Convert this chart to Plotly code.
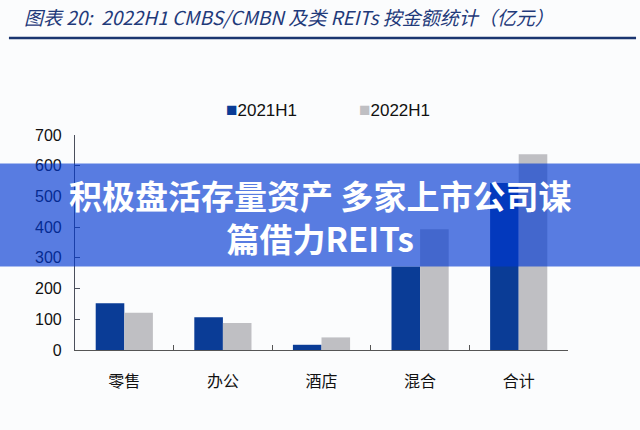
import plotly.graph_objects as go

# ── Data (亿元) ───────────────────────────────────────────────────────────────
categories = ["零售", "办公", "酒店", "混合", "合计"]
h1_2021 = [152, 107, 17, 272, 544]
h1_2022 = [121, 88, 41, 393, 637]
series_names = ["2021H1", "2022H1"]
y_ticks = [0, 100, 200, 300, 400, 500, 600, 700]

BLUE = "#0a3c96"
GREY = "#bfbfc3"
NAVY = "#1f3a7a"
BG = "#fbfcfd"

fig = go.Figure()
fig.add_trace(go.Bar(x=categories, y=h1_2021, name=series_names[0],
                     marker=dict(color=BLUE, line=dict(width=0)), showlegend=False))
fig.add_trace(go.Bar(x=categories, y=h1_2022, name=series_names[1],
                     marker=dict(color=GREY, line=dict(width=0)), showlegend=False))

# ── Legend drawn as text (tight square + label like the source) ──────────────
legend_x = [0.302, 0.571]
for name, color, lx in zip(series_names, [BLUE, GREY], legend_x):
    fig.add_annotation(
        xref="paper", yref="paper", x=lx, y=1.12, xanchor="left", yanchor="middle",
        text=f'<span style="color:{color};font-size:19px">■</span>{name}',
        showarrow=False, font=dict(family="Liberation Sans, Arial", size=17, color="#111"),
    )

# ── Title + rule ─────────────────────────────────────────────────────────────
fig.add_annotation(
    xref="paper", yref="paper", x=-0.107, y=1.553, xanchor="left", yanchor="middle",
    text="<i>图表 20:  2022H1 CMBS/CMBN 及类 REITs 按金额统计（亿元）</i>",
    showarrow=False, font=dict(family="Noto Sans CJK SC", size=19, color=NAVY),
)
fig.add_shape(type="line", xref="paper", yref="paper",
              x0=-0.134, x1=1.138, y0=1.451, y1=1.451,
              line=dict(color="#1a3570", width=2.5))

# ── Overlay banner ───────────────────────────────────────────────────────────
fig.add_shape(type="rect", xref="paper", yref="paper",
              x0=-0.16, x1=1.16, y0=0.388, y1=0.868,
              fillcolor="rgba(0,55,210,0.65)", line=dict(width=0), layer="above")
fig.add_annotation(
    xref="paper", yref="paper", x=0.497, y=0.62, xanchor="center", yanchor="middle",
    text="<b>积极盘活存量资产 多家上市公司谋<br>篇借力REITs</b>",
    showarrow=False, font=dict(family="Noto Sans CJK SC", size=33, color="white"),
)

fig.update_layout(
    width=640, height=430,
    margin=dict(l=75, r=72, t=134.5, b=79.5),
    paper_bgcolor=BG, plot_bgcolor=BG,
    barmode="group", bargap=0.42, bargroupgap=0,
    showlegend=False,
    xaxis=dict(
        showline=True, linecolor="#555", linewidth=1.2,
        ticks="inside", ticklen=5, tickcolor="#555", tickson="boundaries",
        tickfont=dict(family="Noto Sans CJK SC", size=16, color="#111"),
        showgrid=False, zeroline=False, ticklabelstandoff=17,
    ),
    yaxis=dict(
        range=[0, 700], tickvals=y_ticks,
        showline=True, linecolor="#4a4f5c", linewidth=1.2,
        ticks="inside", ticklen=5, tickcolor="#4a4f5c",
        tickfont=dict(family="Liberation Sans, Arial", size=16, color="#111"),
        showgrid=False, zeroline=False, ticklabelstandoff=9,
    ),
)

# page body margin would shift the figure by 8px; drop it
fig.write_html("out.html", config={"displayModeBar": False},
               post_script="document.body.style.margin='0';")
